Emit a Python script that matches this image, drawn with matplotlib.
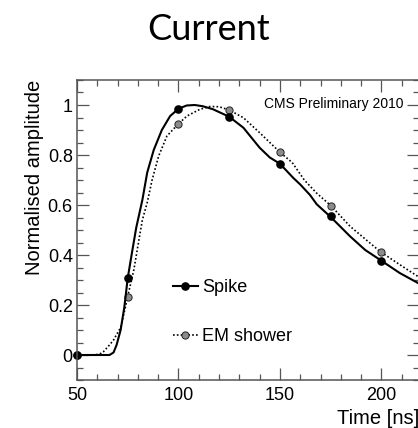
import numpy as np
import matplotlib.pyplot as plt
from matplotlib.ticker import MultipleLocator

# Pulse shapes (time in ns, normalised amplitude)
spike_t = [50, 60, 66, 68, 69.5, 71.5, 73.3, 75, 77.3, 79.2, 82.2, 84.6, 87.8,
           91.8, 95.9, 100, 104, 108, 112, 117, 121, 125, 132, 140, 145, 150,
           156.6, 160, 164.8, 168.1, 175, 184.5, 192, 200, 209, 218, 222]
spike_a = [0, 0, 0, 0.01, 0.04, 0.10, 0.19, 0.308, 0.42, 0.51, 0.62, 0.73, 0.82,
           0.90, 0.956, 0.985, 0.998, 1.0, 0.995, 0.983, 0.968, 0.953, 0.909, 0.829, 0.79, 0.765,
           0.708, 0.682, 0.64, 0.603, 0.552, 0.475, 0.42, 0.377, 0.328, 0.288, 0.27]

em_t = [50, 58, 61, 63, 66, 68, 71.5, 73.8, 75, 78, 80.5, 82.2, 84.6, 87, 90.2,
        94.3, 100, 104.2, 110.6, 115.5, 120, 125, 132, 140, 150, 156, 162, 168,
        175, 184.5, 199.3, 209.1, 218, 222]
em_a = [0, 0, 0.003, 0.013, 0.04, 0.06, 0.11, 0.19, 0.235, 0.34, 0.46, 0.54, 0.61, 0.70, 0.795,
        0.876, 0.925, 0.956, 0.983, 0.994, 0.993, 0.98, 0.949, 0.889, 0.811, 0.77, 0.70, 0.648,
        0.598, 0.515, 0.414, 0.361, 0.314, 0.297]

# Sampled points (every 25 ns)
sample_t = [50, 75, 100, 125, 150, 175, 200]
spike_pts = [0, 0.308, 0.985, 0.953, 0.765, 0.555, 0.377]
em_pts = [0, 0.233, 0.924, 0.98, 0.811, 0.598, 0.414]

axis_col = '#555555'
plt.rcParams['font.family'] = ['Liberation Sans', 'DejaVu Sans']

fig = plt.figure(figsize=(4.18, 4.28), dpi=100)
ax = fig.add_axes([77 / 418, 48 / 428, 342 / 418, 300 / 428])

# EM shower: dotted line with grey markers
ax.plot(em_t, em_a, color='black', linestyle=(0, (1, 1.3)), linewidth=1.2)
ax.plot(sample_t, em_pts, linestyle='none', marker='o', markersize=5.2,
        markerfacecolor='#8c8c8c', markeredgecolor='#222222', markeredgewidth=0.7,
        clip_on=False)
# Spike: solid line with black markers
ax.plot(spike_t, spike_a, color='black', linewidth=1.5)
ax.plot(sample_t, spike_pts, linestyle='none', marker='o', markersize=5.2,
        markerfacecolor='black', markeredgecolor='black', clip_on=False)

# legend proxies
h1, = ax.plot([], [], color='black', linewidth=1.5, marker='o', markersize=5.2,
              markerfacecolor='black')
h2, = ax.plot([], [], color='black', linestyle=(0, (1, 1.3)), linewidth=1.2, marker='o',
              markersize=5.2, markerfacecolor='#8c8c8c', markeredgecolor='#222222',
              markeredgewidth=0.7)
ax.legend([h1, h2], ['Spike', 'EM shower'], frameon=False, fontsize=13,
          handlelength=1.35, handletextpad=0.25, labelspacing=1.75,
          loc='upper left', bbox_to_anchor=(0.26, 0.36), borderaxespad=0)

ax.set_xlim(50, 218.5)
ax.set_ylim(-0.1, 1.1)
ax.xaxis.set_major_locator(MultipleLocator(50))
ax.xaxis.set_minor_locator(MultipleLocator(10))
ax.yaxis.set_major_locator(MultipleLocator(0.2))
ax.yaxis.set_minor_locator(MultipleLocator(0.05))
ax.set_yticks([0, 0.2, 0.4, 0.6, 0.8, 1.0])
ax.set_yticklabels(['0', '0.2', '0.4', '0.6', '0.8', '1'])

ax.tick_params(which='both', direction='in', top=True, right=True,
               color=axis_col, width=0.9, labelsize=13)
ax.tick_params(which='major', length=8.5)
ax.tick_params(which='minor', length=4.3)
ax.tick_params(axis='x', pad=5)
ax.tick_params(axis='y', pad=3)
for s in ax.spines.values():
    s.set_color(axis_col)
    s.set_linewidth(1.1)

ax.set_ylabel('Normalised amplitude', fontsize=14.5, loc='top', labelpad=3)
ax.set_xlabel('Time [ns]', fontsize=14.5, loc='right', labelpad=4)

ax.text(0.956, 0.92, 'CMS Preliminary 2010', transform=ax.transAxes,
        ha='right', va='center', fontsize=10)

fig.text(0.5, 1 - 40 / 428, 'Current', ha='center', va='baseline',
         fontsize=26, family=['Lato', 'DejaVu Sans'])

fig.savefig('out.png', dpi=100)
